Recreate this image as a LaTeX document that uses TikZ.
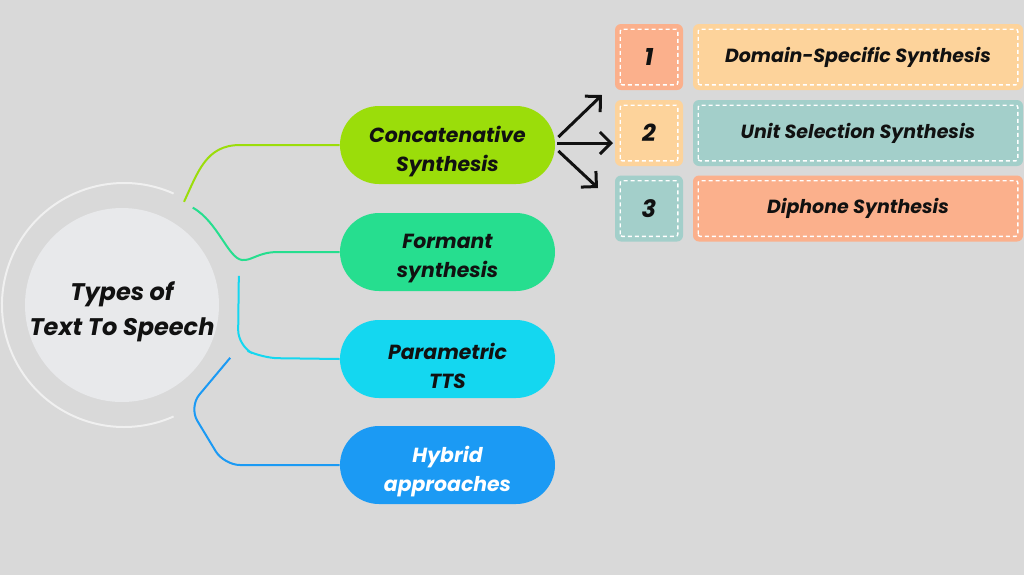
\documentclass[tikz,border=0pt]{standalone}
\usepackage{fontspec}
\setmainfont{Poppins}
\usetikzlibrary{arrows.meta}

\definecolor{bggray}{HTML}{D9D9D9}
\definecolor{coregray}{HTML}{E8E9EB}
\definecolor{ringgray}{HTML}{F0F0F0}
\definecolor{limec}{HTML}{9BDD0A}
\definecolor{greenc}{HTML}{26DE8F}
\definecolor{cyanc}{HTML}{14D7F0}
\definecolor{bluec}{HTML}{1B9AF4}
\definecolor{salmonc}{HTML}{FBB08C}
\definecolor{peachc}{HTML}{FDD39B}
\definecolor{tealc}{HTML}{A3CFCA}
\definecolor{inkc}{HTML}{111111}

\tikzset{
  pill/.style={rectangle, rounded corners=19.5pt, minimum width=107.5pt,
    minimum height=39pt},
  pilltext/.style={align=center, text=inkc, yshift=-3.5pt,
    font=\fontsize{10.2}{14.5}\selectfont\bfseries\itshape},
  numbox/.style={rectangle, rounded corners=3pt, minimum width=34pt,
    minimum height=33pt, text=inkc, font=\fontsize{12}{14}\selectfont\bfseries\itshape},
  namebox/.style={rectangle, rounded corners=3pt, minimum width=165pt,
    minimum height=33pt, text=inkc, font=\fontsize{9.5}{12}\selectfont\bfseries\itshape},
  inset/.style={draw=white, line width=0.7pt, dash pattern=on 2pt off 1.5pt},
  branch/.style={line width=1pt, rounded corners=8pt},
  pointer/.style={-{Straight Barb[length=5.5pt,width=11pt]}, line width=1.5pt, draw=inkc}
}

\begin{document}
\begin{tikzpicture}[x=0.5pt,y=-0.5pt]
    % background
    \fill[bggray] (0,0) rectangle (1024,575);
    \useasboundingbox (0,0) rectangle (1024,575);

    % centre disc and ring
    \draw[ringgray, line width=1pt] (124,305) ++(66:61pt) arc (66:294:61pt);
    \fill[coregray] (122,305) circle (48.5pt);
    \node[align=center, text=inkc, yshift=-3.5pt,
      font=\fontsize{12}{17.5}\selectfont\bfseries\itshape] (core) at (122,305)
      {Types of\\Text To Speech};
    \node[circle, minimum size=120pt, inner sep=0pt] (ring) at (122,305) {};

    % the four types
    \node[pill, fill=limec, label={[pilltext]center:Concatenative\\Synthesis}] (conc) at (447.5,145) {};
    \node[pill, fill=greenc, label={[pilltext]center:Formant\\synthesis}] (form) at (447.5,252) {};
    \node[pill, fill=cyanc, label={[pilltext]center:Parametric\\TTS}] (para) at (447.5,359) {};
    \node[pill, fill=bluec, label={[pilltext, text=white]center:Hybrid\\approaches}] (hyb) at (447.5,465) {};

    % branches from the centre
    \draw[branch, sharp corners, limec] (ring.59) .. controls (198,172) and (206,145) .. (240,145) -- (conc.west);
    \draw[branch, sharp corners, greenc] (ring.54) .. controls (218,222) and (228,258) .. (242,260)
      .. controls (252,261) and (258,252) .. (278,252) -- (form.west);
    \draw[branch, cyanc] (ring.14) -- (238,346) -- (262,358) -- (para.west);
    \draw[branch, bluec] (ring.-26) -- (189,407) -- (224,465) -- (hyb.west);

    % concatenative sub types
    \node[numbox, fill=salmonc] (n1) at (649,57) {1};
    \node[numbox, fill=peachc] (n2) at (649,133) {2};
    \node[numbox, fill=tealc] (n3) at (649,208.5) {3};
    \node[namebox, fill=peachc] (dom) at (858,57) {Domain-Specific Synthesis};
    \node[namebox, fill=tealc] (unit) at (858,133) {Unit Selection Synthesis};
    \node[namebox, fill=salmonc] (diph) at (858,208.5) {Diphone Synthesis};

    % dashed insets
    \foreach \b in {n1,n2,n3,dom,unit,diph}
      \draw[inset, rounded corners=1pt] ([shift={(2.8pt,2.8pt)}]\b.south west)
        rectangle ([shift={(-2.8pt,-2.8pt)}]\b.north east);

    % arrows
    \coordinate (a1) at (602,95);
    \coordinate (a2) at (613,143);
    \coordinate (a3) at (598,188);
    \draw[pointer] ([shift={(1.5pt,4pt)}]conc.east) -- (a1);
    \draw[pointer] ([shift={(1pt,1pt)}]conc.east) -- (a2);
    \draw[pointer] ([shift={(1.5pt,-3pt)}]conc.east) -- (a3);

\end{tikzpicture}
\end{document}
